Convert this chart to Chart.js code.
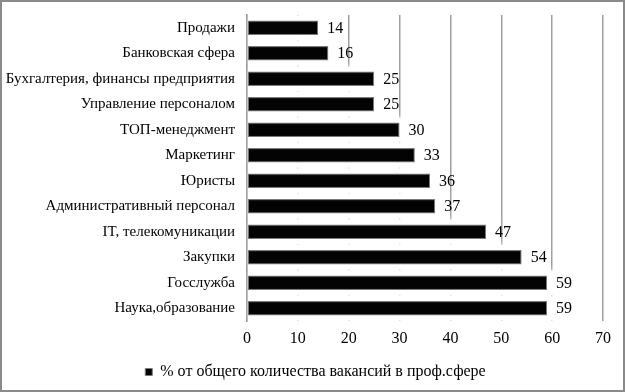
<!DOCTYPE html>
<html>
<head>
<meta charset="utf-8">
<script src="https://cdn.jsdelivr.net/npm/chart.js@4.4.1/dist/chart.umd.min.js"></script>
<style>
  body { margin: 0; background: #fff; }
  #box {
    position: absolute; left: 0; top: 0;
    width: 625px; height: 392px;
    box-sizing: border-box;
    border: 2px solid #8a8a8a;
    background: #fff;
  }
  #box canvas { display: block; }
</style>
</head>
<body>
<div id="box"><canvas id="grafik" width="621" height="388"></canvas></div>
<script>
// veriler
var kategoriler = ["Продажи", "Банковская сфера", "Бухгалтерия, финансы предприятия", "Управление персоналом",
  "ТОП-менеджмент", "Маркетинг", "Юристы", "Административный персонал", "IT, телекомуникации",
  "Закупки", "Госслужба", "Наука,образование"];
var degerler = [14, 16, 25, 25, 30, 33, 36, 37, 47, 54, 59, 59];
var seriAdi = "% от общего количества вакансий в проф.сфере";
var eksenTikleri = [0, 10, 20, 30, 40, 50, 60, 70];

var yaziTipi = "'Liberation Serif', 'Times New Roman', serif";

/* cubuk etrafindaki beyaz hale (izgara cizgilerini orter) */
var haleEklentisi = {
  id: "hale",
  beforeDatasetsDraw: function (chart) {
    var ctx = chart.ctx;
    var meta = chart.getDatasetMeta(0);
    ctx.save();
    ctx.fillStyle = "#fff";
    ctx.shadowColor = "rgba(255,255,255,1)";
    ctx.shadowBlur = 6;
    meta.data.forEach(function (bar) {
      var p = bar.getProps(["x", "y", "base", "height"], true);
      ctx.fillRect(p.base + 1, p.y - p.height / 2 - 5, p.x - p.base + 10, p.height + 10);
    });
    ctx.restore();
  }
};

/* cubuk parlakligi: ustte ince gri cizgi */
var parlaklikEklentisi = {
  id: "parlaklik",
  afterDatasetsDraw: function (chart) {
    var ctx = chart.ctx;
    var meta = chart.getDatasetMeta(0);
    ctx.save();
    meta.data.forEach(function (bar) {
      var p = bar.getProps(["x", "y", "base", "height"], true);
      var ust = p.y - p.height / 2;
      var g = ctx.createLinearGradient(0, ust, 0, ust + p.height);
      g.addColorStop(0, "rgba(120,120,120,0.9)");
      g.addColorStop(0.18, "rgba(0,0,0,0)");
      g.addColorStop(0.85, "rgba(0,0,0,0)");
      g.addColorStop(1, "rgba(90,90,90,0.6)");
      ctx.fillStyle = g;
      ctx.fillRect(p.base + 1, ust + 1, p.x - p.base - 2, p.height - 2);
    });
    ctx.restore();
  }
};

/* deger etiketleri */
var etiketEklentisi = {
  id: "etiketler",
  afterDatasetsDraw: function (chart) {
    var ctx = chart.ctx;
    var meta = chart.getDatasetMeta(0);
    ctx.save();
    ctx.font = "16px " + yaziTipi;
    ctx.fillStyle = "#000";
    ctx.textBaseline = "middle";
    ctx.textAlign = "left";
    meta.data.forEach(function (bar, i) {
      ctx.fillText(degerler[i], bar.x + 9, bar.y + 1);
    });
    ctx.restore();
  }
};

/* legend biraz saga */
var legendKaydir = {
  id: "legendKaydir",
  afterLayout: function (chart) {
    if (chart.legend) {
      chart.legend.left += 13;
      chart.legend.right += 13;
    }
  }
};

var ctx = document.getElementById("grafik");
var grafik = new Chart(ctx, {
  type: "bar",
  data: {
    labels: kategoriler,
    datasets: [{
      label: seriAdi,
      data: degerler,
      backgroundColor: "#030303",
      borderColor: "#7a7a7a",
      borderWidth: 1,
      borderSkipped: false,
      barPercentage: 0.56,
      categoryPercentage: 1
    }]
  },
  options: {
    indexAxis: "y",
    responsive: false,
    animation: false,
    layout: { padding: { top: 13, right: 20, left: 0, bottom: 0 } },
    scales: {
      x: {
        min: 0, max: 70,
        afterBuildTicks: function (axis) {
          axis.ticks = eksenTikleri.map(function (v) { return { value: v }; });
        },
        afterFit: function (axis) { axis.height = 34; },
        grid: { color: "#a0a0a0", lineWidth: 1.5, drawTicks: false },
        border: { display: false },
        ticks: { color: "#000", font: { family: yaziTipi, size: 16 }, padding: 8 }
      },
      y: {
        grid: { display: false },
        border: { display: true, color: "#8c8c8c", width: 1.5 },
        afterFit: function (axis) { axis.width = 245; },
        ticks: { color: "#000", font: { family: yaziTipi, size: 15 }, padding: 4, autoSkip: false }
      }
    },
    plugins: {
      legend: {
        position: "bottom",
        labels: {
          color: "#000",
          font: { family: yaziTipi, size: 16 },
          boxWidth: 7, boxHeight: 7,
          padding: 9
        }
      },
      tooltip: { enabled: false }
    }
  },
  plugins: [haleEklentisi, parlaklikEklentisi, etiketEklentisi, legendKaydir]
});
</script>
</body>
</html>
